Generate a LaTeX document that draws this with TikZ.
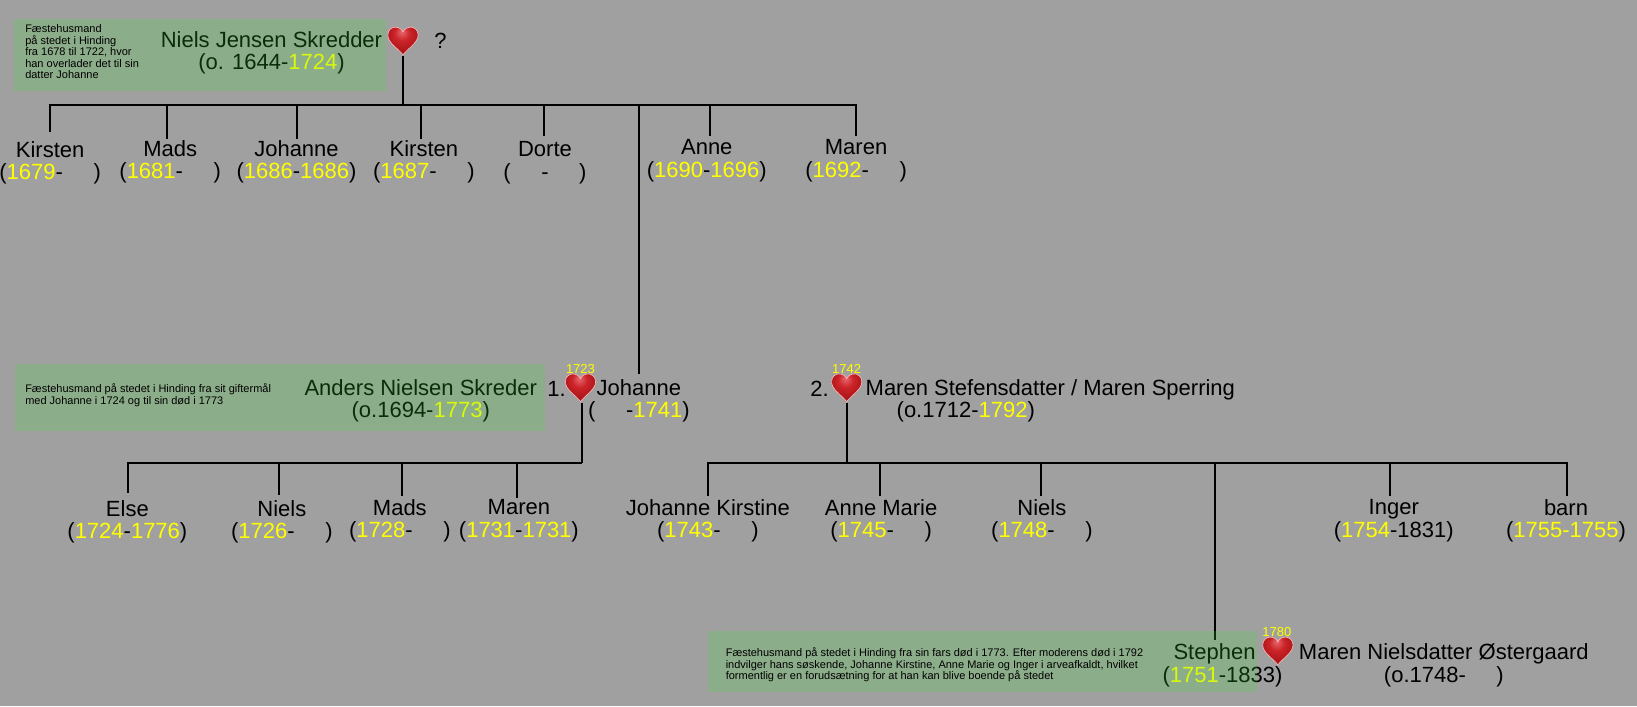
\documentclass[tikz,border=0pt]{standalone}
\usepackage{fontspec}
\setmainfont{Liberation Sans}
\usetikzlibrary{calc, positioning}
\definecolor{bgcol}{RGB}{160,160,160}
\definecolor{boxcol}{RGB}{60,225,50}
\definecolor{yrcol}{RGB}{255,255,0}
\pgfdeclareradialshading{heartglow}{\pgfpoint{-2bp}{16bp}}{%
  rgb(0bp)=(.90,.42,.44); rgb(12bp)=(.80,.14,.16);
  rgb(30bp)=(.62,.07,.08); rgb(50bp)=(.38,0,0)}
% Year and blank year
\newcommand{\yr}[1]{\textcolor{yrcol}{#1}}
\newcommand{\nogap}{\hspace*{1.39em}}
\tikzset{
  % Family tree lines
  tree/.style={line width=2pt},
  % Person with name and dates
  person/.style={inner sep=0pt, align=center,
    font=\fontsize{22}{22.5}\selectfont},
  % Free text of the same size
  plain/.style={person},
  % Marriage year
  wedyear/.style={inner sep=0pt, text=yrcol, font=\fontsize{13}{14}\selectfont},
  % Heart
  heartnode/.style={inner sep=0pt, minimum width=32pt, minimum height=30pt,
    path picture={
      \shadedraw[shift={(path picture bounding box.center)}, shading=heartglow,
        draw=red!25!white, line width=.6pt]
        (0,13.5) .. controls (-5,7) and (-14.5,2) .. (-14.5,-5.5)
        .. controls (-14.5,-10.5) and (-10.5,-13) .. (-7.5,-13)
        .. controls (-4,-13) and (-1,-11) .. (0,-8.5)
        .. controls (1,-11) and (4,-13) .. (7.5,-13)
        .. controls (10.5,-13) and (14.5,-10.5) .. (14.5,-5.5)
        .. controls (14.5,2) and (5,7) .. (0,13.5) -- cycle;}},
  % Green box, laid over the names
  infobox/.style={inner sep=0pt, fill=boxcol, fill opacity=.2},
  % Small text in a box
  note/.style={inner sep=0pt, anchor=west, align=left,
    font=\fontsize{11}{11.4}\selectfont},
}
\begin{document}
\begin{tikzpicture}[x=1.044pt, y=-1.0444pt]
  \fill[bgcol, use as bounding box] (0,0) rectangle (1568,676);

  % First generation
  \node[person] (niels) at (260,50.5) {Niels Jensen Skredder\\(o. 1644-\yr{1724})};
  \node[heartnode] (heartA) at (386,39) {};
  \node[plain] (unknown) at (422,39) {?};
  \coordinate (busA) at (386,101);
  \node[person] (kirstenA) at (48,156) {Kirsten\\(\yr{1679}-\nogap)};
  \node[person] (madsA) at (163,155) {Mads\\(\yr{1681}-\nogap)};
  \node[person] (johanneA) at (284,155) {Johanne\\(\yr{1686}-\yr{1686})};
  \node[person] (kirstenB) at (406,155) {Kirsten\\(\yr{1687}-\nogap)};
  \node[person] (dorte) at (522,156) {Dorte\\(\nogap-\nogap)};
  \node[person] (anne) at (677,154) {Anne\\(\yr{1690}-\yr{1696})};
  \node[person] (marenA) at (820,154) {Maren\\(\yr{1692}-\nogap)};

  % Johanne and her two husbands
  \node[person] (anders) at (403,384) {Anders Nielsen Skreder\\(o.1694-\yr{1773})};
  \node[plain] (first) at (533,372) {1.};
  \node[heartnode] (heartB) at (556,371) {};
  \node[wedyear] (yearB) at (556,353) {1723};
  \node[person] (johanne) at (612,384) {Johanne\\(\nogap-\yr{1741})};
  \node[plain] (second) at (785,372) {2.};
  \node[heartnode] (heartC) at (811,371) {};
  \node[wedyear] (yearC) at (811,353) {1742};
  \node[person, align=left, anchor=west] (marenS) at (829,384)
    {Maren Stefensdatter / Maren Sperring\\\hspace*{31pt}(o.1712-\yr{1792})};
  \coordinate (busT) at (612,101);
  \coordinate (busB) at (557,443);
  \coordinate (busC) at (811,443);

  % Children of the first marriage
  \node[person] (elseB) at (122,499.5) {Else\\(\yr{1724}-\yr{1776})};
  \node[person] (nielsB) at (270,499.5) {Niels\\(\yr{1726}-\nogap)};
  \node[person] (madsB) at (383,498.5) {Mads\\(\yr{1728}-\nogap)};
  \node[person] (marenB) at (497,498.5) {Maren\\(\yr{1731}-\yr{1731})};

  % Children of the second marriage
  \node[person] (kirstine) at (678,498.5) {Johanne Kirstine\\(\yr{1743}-\nogap)};
  \node[person] (marie) at (844,498.5) {Anne Marie\\(\yr{1745}-\nogap)};
  \node[person] (nielsC) at (998,498.5) {Niels\\(\yr{1748}-\nogap)};
  \node[person] (inger) at (1335,498.5) {Inger\\(\yr{1754}-1831)};
  \node[person] (barn) at (1500,498.5) {barn\\(\yr{1755-1755})};

  % Last couple
  \node[person] (stephen) at (1171,637) {Stephen\hspace*{16pt}\\(\yr{1751}-1833)};
  \node[heartnode] (heartD) at (1224,623) {};
  \node[wedyear] (yearD) at (1223,605) {1780};
  \node[person] (marenN) at (1383,637) {Maren Nielsdatter Østergaard\\(o.1748-\nogap)};

  % Tree
  \draw[tree] (busA |- heartA.south) -- (busA);
  \draw[tree] (busA) -| ([yshift=9pt]kirstenA.north);
  \draw[tree] (busA) -| ([xshift=-3pt, yshift=1pt]madsA.north);
  \draw[tree] (busA) -| ([yshift=1pt]johanneA.north);
  \draw[tree] (busA) -| ([xshift=-3pt, yshift=1pt]kirstenB.north);
  \draw[tree] (busA) -| ([xshift=-1pt, yshift=6pt]dorte.north);
  \draw[tree] (busA) -| ([xshift=3pt, yshift=4pt]anne.north);
  \draw[tree] (busA) -| ([yshift=4pt]marenA.north);
  \draw[tree] (busT) -- ([yshift=5pt]johanne.north);
  \draw[tree] (busB |- heartB.south) -- (busB);
  \draw[tree] (busB) -| ([xshift=1pt, yshift=7pt]elseB.north);
  \draw[tree] (busB) -| ([xshift=-3pt, yshift=5pt]nielsB.north);
  \draw[tree] (busB) -| ([xshift=2pt, yshift=3pt]madsB.north);
  \draw[tree] (busB) -| ([xshift=-2pt, yshift=1pt]marenB.north);
  \draw[tree] (busC |- heartC.south) -- (busC);
  \draw[tree] (busC) -| ([yshift=3pt]kirstine.north);
  \draw[tree] (busC) -| ([xshift=-1pt, yshift=3pt]marie.north);
  \draw[tree] (busC) -| ([xshift=-1pt, yshift=3pt]nielsC.north);
  \draw[tree] (busC) -| ([xshift=-8pt, yshift=4pt]stephen.north);
  \draw[tree] (busC) -| ([xshift=-4pt, yshift=3pt]inger.north);
  \draw[tree] (busC) -| ([xshift=1pt, yshift=3pt]barn.north);

  % Boxes
  \node[infobox, minimum width=372.7pt, minimum height=72pt] (boxA) at (191.5,52.5) {};
  \node[infobox, minimum width=530.4pt, minimum height=67pt] (boxB) at (268,381) {};
  \node[infobox, minimum width=549pt, minimum height=61.6pt] (boxC) at (941,633.5) {};
  \node[note] (noteA) at (24,49.5)
    {Fæstehusmand\\på stedet i Hinding\\fra 1678 til 1722, hvor\\han overlader det til sin\\datter Johanne};
  \node[note] (noteB) at (24,378.5)
    {Fæstehusmand på stedet i Hinding fra sit giftermål\\med Johanne i 1724 og til sin død i 1773};
  \node[note] (noteC) at (695,636.5)
    {Fæstehusmand på stedet i Hinding fra sin fars død i 1773. Efter moderens død i 1792\\indvilger hans søskende, Johanne Kirstine, Anne Marie og Inger i arveafkaldt, hvilket\\formentlig er en forudsætning for at han kan blive boende på stedet};
\end{tikzpicture}
\end{document}
